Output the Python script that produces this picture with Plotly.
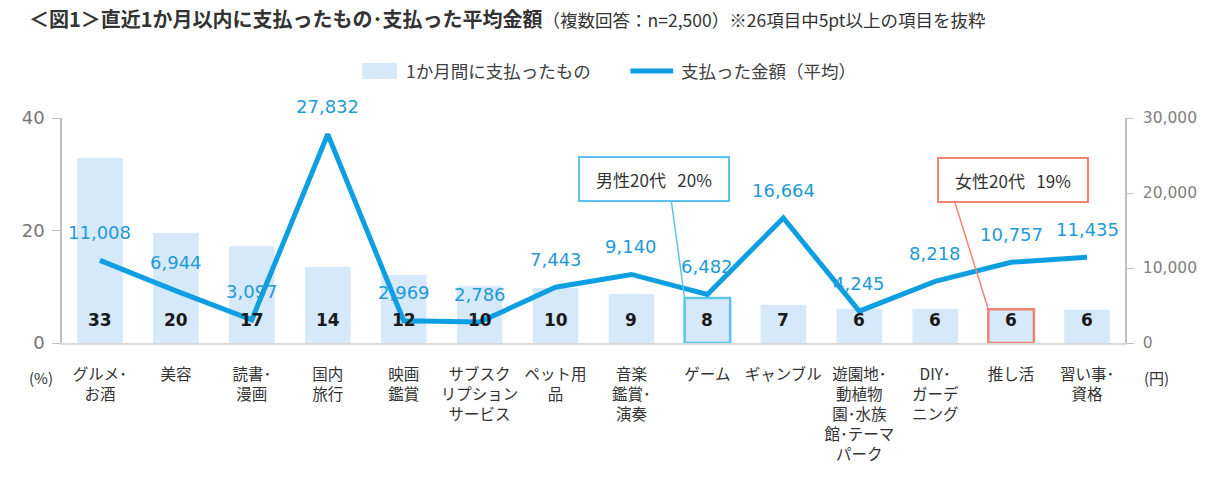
import plotly.graph_objects as go

# データ
categories = [
    "グルメ･<br>お酒", "美容", "読書･<br>漫画", "国内<br>旅行", "映画<br>鑑賞",
    "サブスク<br>リプション<br>サービス", "ペット用<br>品", "音楽<br>鑑賞･<br>演奏",
    "ゲーム", "ギャンブル", "遊園地･<br>動植物<br>園･水族<br>館･テーマ<br>パーク",
    "DIY･<br>ガーデ<br>ニング", "推し活", "習い事･<br>資格",
]
paid_share = [32.9, 19.6, 17.2, 13.5, 12.1, 10.1, 9.8, 8.7, 8.0, 6.8, 6.1, 6.1, 6.0, 5.9]
avg_amount = [11008, 6944, 3097, 27832, 2969, 2786, 7443, 9140, 6482, 16664, 4245, 8218, 10757, 11435]

bar_name = "1か月間に支払ったもの"
line_name = "支払った金額（平均）"

# 吹き出し（男性20代・女性20代）
callouts = [
    {"idx": 8, "text": "男性20代\u00a0\u00a0\u00a020%", "color": "#5BC3EC"},
    {"idx": 12, "text": "女性20代\u00a0\u00a0\u00a019%", "color": "#EF8371"},
]

BAR_COLOR = "#D5E9FB"
LINE_COLOR = "#0E9FE2"
LABEL_BLUE = "#1E9AD6"
JP = "Noto Sans CJK JP"
NUM = "DejaVu Sans"
BAR_W = 0.6

x_idx = list(range(len(categories)))

fig = go.Figure()

fig.add_trace(go.Bar(
    x=x_idx, y=paid_share, name=bar_name,
    marker=dict(color=BAR_COLOR, line=dict(width=0)), width=BAR_W,
    yaxis="y", showlegend=False,
))
fig.add_trace(go.Scatter(
    x=x_idx, y=avg_amount, name=line_name,
    mode="lines", line=dict(color=LINE_COLOR, width=5),
    yaxis="y2", showlegend=False,
))

annotations = []
# 棒の数値（太字、棒の下部）
for i, v in enumerate(paid_share):
    annotations.append(dict(
        x=i, y=0, xref="x", yref="y", text=f"<b>{v:.0f}</b>", showarrow=False,
        yanchor="middle", yshift=23, font=dict(family=NUM, size=17, color="#1A1A1A"),
    ))
# 折れ線の数値
for i, v in enumerate(avg_amount):
    annotations.append(dict(
        x=i, y=v, xref="x", yref="y2", text=f"{v:,}", showarrow=False,
        yanchor="middle", yshift=28, font=dict(family=NUM, size=18, color=LABEL_BLUE),
    ))

# 吹き出しの枠・引き出し線・強調枠
shapes = []
box_pos = {8: (7.30, 29.1), 12: (12.03, 29.0)}
line_start = {8: (7.525, 25.2), 12: (11.255, 25.2)}
for c in callouts:
    i = c["idx"]
    bx, by = box_pos[i]
    annotations.append(dict(
        x=bx, y=by, xref="x", yref="y", text=c["text"], showarrow=False,
        font=dict(family=JP, size=17, color="#333333"),
        bgcolor="white", bordercolor=c["color"], borderwidth=2,
        width=144, height=38, borderpad=2,
    ))
    sx, sy = line_start[i]
    shapes.append(dict(
        type="line", xref="x", yref="y", x0=sx, y0=sy,
        x1=i - BAR_W / 2, y1=paid_share[i],
        line=dict(color=c["color"], width=1.5),
    ))
    shapes.append(dict(
        type="rect", xref="x", yref="y", x0=i - BAR_W / 2, x1=i + BAR_W / 2,
        y0=0, y1=paid_share[i], line=dict(color=c["color"], width=2.5),
    ))

# 凡例（手描き）
shapes.append(dict(type="rect", xref="paper", yref="paper",
                   x0=0.2824, x1=0.3152, y0=1.1733, y1=1.2444,
                   fillcolor=BAR_COLOR, line=dict(width=0)))
shapes.append(dict(type="line", xref="paper", yref="paper",
                   x0=0.5347, x1=0.5750, y0=1.2089, y1=1.2089,
                   line=dict(color=LINE_COLOR, width=5)))
for tx, label in [(0.3218, bar_name), (0.5807, line_name)]:
    annotations.append(dict(x=tx, y=1.2089, xref="paper", yref="paper", text=label,
                            showarrow=False, xanchor="left", yanchor="middle",
                            font=dict(family=JP, size=17.5, color="#404040")))

# 単位
annotations.append(dict(x=-0.02, y=0, xref="paper", yref="paper", text="(%)",
                        showarrow=False, xanchor="center", yanchor="middle", yshift=-34,
                        font=dict(family=JP, size=15, color="#333333")))
annotations.append(dict(x=1.03, y=0, xref="paper", yref="paper", text="(円)",
                        showarrow=False, xanchor="center", yanchor="middle", yshift=-34,
                        font=dict(family=JP, size=15, color="#333333")))

fig.update_layout(
    width=1209, height=485,
    margin=dict(l=62, r=81, t=118, b=142),
    paper_bgcolor="white", plot_bgcolor="white",
    showlegend=False,
    title=dict(
        text="<b>＜図1＞直近1か月以内に支払ったもの･支払った平均金額</b>"
             "<span style='font-size:17.5px'>（複数回答：n=2,500）※26項目中5pt以上の項目を抜粋</span>",
        x=29 / 1209, xref="container", xanchor="left",
        y=1 - 20 / 485, yref="container", yanchor="middle",
        font=dict(family=JP, size=20, color="#333333"),
    ),
    xaxis=dict(
        tickmode="array", tickvals=x_idx, ticktext=categories, tickangle=0,
        range=[-0.5, len(categories) - 0.5],
        showline=True, linecolor="#D9D9D9", linewidth=2, ticks="",
        showgrid=False, zeroline=False, ticklabelstandoff=16,
        tickfont=dict(family=JP, size=15.5, color="#333333"),
    ),
    yaxis=dict(
        range=[0, 40], dtick=20, showgrid=False, zeroline=False,
        showline=True, linecolor="#BFBFBF", linewidth=1.5,
        ticks="outside", ticklen=8, tickcolor="#BFBFBF", ticklabelstandoff=4,
        tickfont=dict(family=NUM, size=18, color="#767676"),
    ),
    yaxis2=dict(
        range=[0, 30000], dtick=10000, tickformat=",", overlaying="y", side="right",
        showgrid=False, zeroline=False,
        showline=True, linecolor="#BFBFBF", linewidth=1.5,
        ticks="outside", ticklen=7, tickcolor="#BFBFBF", ticklabelstandoff=6,
        tickfont=dict(family=NUM, size=15.5, color="#7F7F7F"),
    ),
    annotations=annotations,
    shapes=shapes,
)

# ページ余白をなくして 1209x485 にぴったり合わせる
fig.write_html("out.html", config={"displayModeBar": False},
               post_script="document.body.style.margin='0';")
